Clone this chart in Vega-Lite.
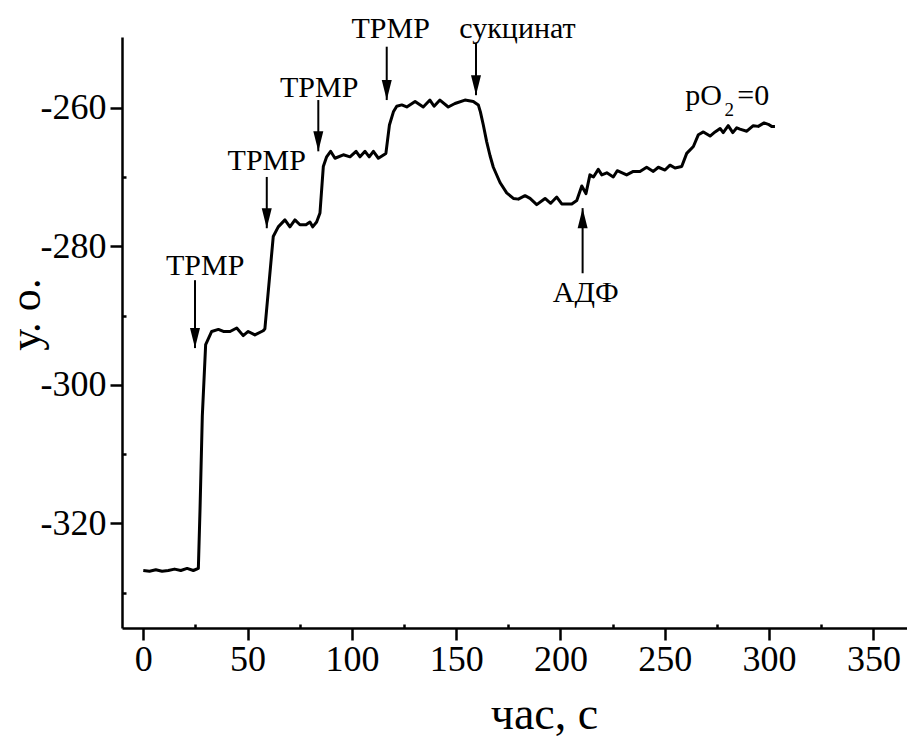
{
  "$schema": "https://vega.github.io/schema/vega-lite/v6.json",
  "width": 785,
  "height": 591,
  "autosize": {"type": "none"},
  "padding": {"left": 122, "top": 37, "right": 0, "bottom": 110},
  "background": "white",
  "config": {
    "view": {"stroke": null},
    "font": "Liberation Serif",
    "axis": {"grid": false, "domainColor": "black", "domainWidth": 2.5, "tickColor": "black", "tickWidth": 2.5, "labelColor": "black", "titleColor": "black"}
  },
  "datasets": {
    "curve": [
      {"t": 0, "v": -326.8}, {"t": 3, "v": -326.9}, {"t": 6, "v": -326.7}, {"t": 9, "v": -326.9}, {"t": 12, "v": -326.8},
      {"t": 15, "v": -326.6}, {"t": 18, "v": -326.8}, {"t": 21, "v": -326.5}, {"t": 24, "v": -326.8}, {"t": 26.4, "v": -326.5},
      {"t": 27.2, "v": -318}, {"t": 28.3, "v": -304.5}, {"t": 29.9, "v": -294.2}, {"t": 32.8, "v": -292.3}, {"t": 36, "v": -292},
      {"t": 38.4, "v": -292.3}, {"t": 41.6, "v": -292.3}, {"t": 44.8, "v": -291.8}, {"t": 47.9, "v": -292.9}, {"t": 50.3, "v": -292.3},
      {"t": 53.5, "v": -292.8}, {"t": 57.5, "v": -292.2}, {"t": 58.3, "v": -291.9}, {"t": 62.3, "v": -278.6}, {"t": 64.7, "v": -277.2},
      {"t": 67.9, "v": -276.2}, {"t": 70.3, "v": -277.2}, {"t": 72.7, "v": -276.2}, {"t": 75.1, "v": -276.9}, {"t": 78, "v": -276.9},
      {"t": 79.9, "v": -276.5}, {"t": 81.2, "v": -277.2}, {"t": 83.1, "v": -276.5}, {"t": 84.7, "v": -275.2}, {"t": 86.3, "v": -268.5},
      {"t": 87.9, "v": -267.1}, {"t": 89.8, "v": -266.3}, {"t": 91.9, "v": -267.3}, {"t": 95.9, "v": -266.8}, {"t": 99.1, "v": -267.1},
      {"t": 102, "v": -266.3}, {"t": 103.9, "v": -267.1}, {"t": 106.3, "v": -266.3}, {"t": 108.3, "v": -267.1}, {"t": 110.3, "v": -266.3},
      {"t": 112.7, "v": -267.3}, {"t": 116.3, "v": -266.6}, {"t": 118, "v": -262.5}, {"t": 119.9, "v": -260.6}, {"t": 121.5, "v": -259.8},
      {"t": 123.9, "v": -259.6}, {"t": 126.3, "v": -259.9}, {"t": 130.3, "v": -259.1}, {"t": 134.2, "v": -259.9}, {"t": 137.4, "v": -258.9},
      {"t": 139.4, "v": -259.8}, {"t": 142.2, "v": -258.9}, {"t": 146.2, "v": -259.9}, {"t": 149.4, "v": -259.4}, {"t": 154.2, "v": -258.9},
      {"t": 158.2, "v": -259.1}, {"t": 160.6, "v": -259.6}, {"t": 161.6, "v": -260.6}, {"t": 163, "v": -262.5}, {"t": 164.6, "v": -264.9},
      {"t": 166.2, "v": -266.9}, {"t": 167.8, "v": -268.6}, {"t": 171, "v": -270.8}, {"t": 174.2, "v": -272.3}, {"t": 177.4, "v": -273.1},
      {"t": 179.8, "v": -273.2}, {"t": 183, "v": -272.7}, {"t": 185.4, "v": -273.1}, {"t": 188.6, "v": -274}, {"t": 192.6, "v": -273.1},
      {"t": 195.3, "v": -273.8}, {"t": 198.2, "v": -272.9}, {"t": 200.6, "v": -273.9}, {"t": 205.4, "v": -273.9}, {"t": 207.8, "v": -273.4},
      {"t": 210.2, "v": -271.3}, {"t": 212.2, "v": -272.4}, {"t": 214.1, "v": -269.7}, {"t": 215.8, "v": -270}, {"t": 218.1, "v": -268.9},
      {"t": 219.8, "v": -269.7}, {"t": 222.2, "v": -269.4}, {"t": 225.3, "v": -270}, {"t": 227.2, "v": -269.1}, {"t": 231.7, "v": -269.7},
      {"t": 234.9, "v": -269.2}, {"t": 238.1, "v": -269.2}, {"t": 241.3, "v": -268.6}, {"t": 244.5, "v": -269.2}, {"t": 246.9, "v": -268.6},
      {"t": 250.1, "v": -269}, {"t": 252.5, "v": -268.3}, {"t": 254.9, "v": -268.7}, {"t": 258.1, "v": -268.5}, {"t": 260.5, "v": -266.6},
      {"t": 263.7, "v": -265.6}, {"t": 266.1, "v": -263.9}, {"t": 268.5, "v": -263.5}, {"t": 271.7, "v": -264.1}, {"t": 274.1, "v": -263.5},
      {"t": 276.5, "v": -263}, {"t": 278, "v": -263.6}, {"t": 280.4, "v": -262.6}, {"t": 282.6, "v": -263.6}, {"t": 284.5, "v": -262.9},
      {"t": 286, "v": -263.1}, {"t": 289.3, "v": -263.4}, {"t": 292.4, "v": -262.6}, {"t": 294.8, "v": -262.7}, {"t": 297.6, "v": -262.2},
      {"t": 299.6, "v": -262.4}, {"t": 301.2, "v": -262.7}, {"t": 302.8, "v": -262.7}
    ],
    "arrows": [
      {"x": 24.8, "top": -284.9, "tip": -294.7, "dir": "down"},
      {"x": 59.2, "top": -270.0, "tip": -277.4, "dir": "down"},
      {"x": 83.9, "top": -258.9, "tip": -266.3, "dir": "down"},
      {"x": 116.7, "top": -251.2, "tip": -258.9, "dir": "down"},
      {"x": 159.5, "top": -250.7, "tip": -258.2, "dir": "down"},
      {"x": 210.6, "top": -283.9, "tip": -274.5, "dir": "up"}
    ],
    "labels": [
      {"x": 29.7, "y": -284.1, "text": "TPMP", "size": 30},
      {"x": 59.2, "y": -269.0, "text": "TPMP", "size": 30},
      {"x": 84.3, "y": -258.5, "text": "TPMP", "size": 30},
      {"x": 118.6, "y": -250.0, "text": "TPMP", "size": 30},
      {"x": 179.4, "y": -250.0, "text": "сукцинат", "size": 30},
      {"x": 212.1, "y": -288.0, "text": "АДФ", "size": 30},
      {"x": 268.6, "y": -259.6, "text": "pO", "size": 30},
      {"x": 280.9, "y": -261.2, "text": "2", "size": 19},
      {"x": 292.4, "y": -259.6, "text": "=0", "size": 30}
    ]
  },
  "layer": [
    {
      "data": {"name": "curve"},
      "mark": {"type": "line", "color": "black", "strokeWidth": 3, "strokeJoin": "round"},
      "encoding": {
        "x": {"field": "t", "type": "quantitative", "scale": {"domain": [-10.2, 366.1], "nice": false, "zero": false},
          "axis": {"orient": "bottom", "values": [0, 50, 100, 150, 200, 250, 300, 350], "tickSize": 12, "labelPadding": 2, "labelFont": "Liberation Serif", "labelFontSize": 36, "labelFlush": false, "labelOverlap": false,
            "title": "час, с", "titleFont": "Liberation Serif", "titleFontSize": 46, "titleFontWeight": "normal", "titleX": 422, "titleY": 100, "titleBaseline": "alphabetic", "titleAnchor": "start", "titleAlign": "center"}},
        "y": {"field": "v", "type": "quantitative", "scale": {"domain": [-335.1, -249.8], "nice": false, "zero": false},
          "axis": {"orient": "left", "values": [-320, -300, -280, -260], "labelExpr": "toString(datum.value)", "tickSize": 12, "labelPadding": 4, "labelFont": "Liberation Serif", "labelFontSize": 36, "labelOverlap": false, "labelFlush": false,
            "title": "у. о.", "titleFont": "Liberation Serif", "titleFontSize": 44, "titleFontWeight": "normal", "titleX": -96, "titleY": 277, "titleAngle": -90, "titleAlign": "center", "titleBaseline": "middle", "titleAnchor": "start"}}
      }
    },
    {
      "data": {"name": "arrows"},
      "mark": {"type": "rule", "color": "black", "strokeWidth": 2},
      "encoding": {
        "x": {"field": "x", "type": "quantitative",
          "axis": {"orient": "bottom", "values": [25, 75, 125, 175, 225, 275, 325], "tickSize": -4, "labels": false, "domain": false, "title": null}},
        "y": {"field": "top", "type": "quantitative",
          "axis": {"orient": "left", "values": [-330, -310, -290, -270], "tickSize": -4, "labels": false, "domain": false, "title": null}},
        "y2": {"field": "tip"}
      }
    },
    {
      "data": {"name": "arrows"},
      "mark": {"type": "point", "filled": true, "color": "black", "opacity": 1, "size": 400, "strokeWidth": 0},
      "encoding": {
        "x": {"field": "x", "type": "quantitative", "axis": null},
        "y": {"field": "tip", "type": "quantitative", "axis": null},
        "shape": {"field": "dir", "type": "nominal", "scale": {"domain": ["down", "up"], "range": ["M-0.5,-2L0.5,-2L0,0Z", "M-0.5,2L0.5,2L0,0Z"]}, "legend": null}
      }
    },
    {
      "data": {"name": "labels"},
      "mark": {"type": "text", "color": "black", "baseline": "alphabetic", "align": "center", "font": "Liberation Serif"},
      "encoding": {
        "x": {"field": "x", "type": "quantitative", "axis": null},
        "y": {"field": "y", "type": "quantitative", "axis": null},
        "text": {"field": "text"},
        "size": {"field": "size", "type": "quantitative", "scale": null, "legend": null}
      }
    }
  ],
  "resolve": {"axis": {"x": "independent", "y": "independent"}}
}
